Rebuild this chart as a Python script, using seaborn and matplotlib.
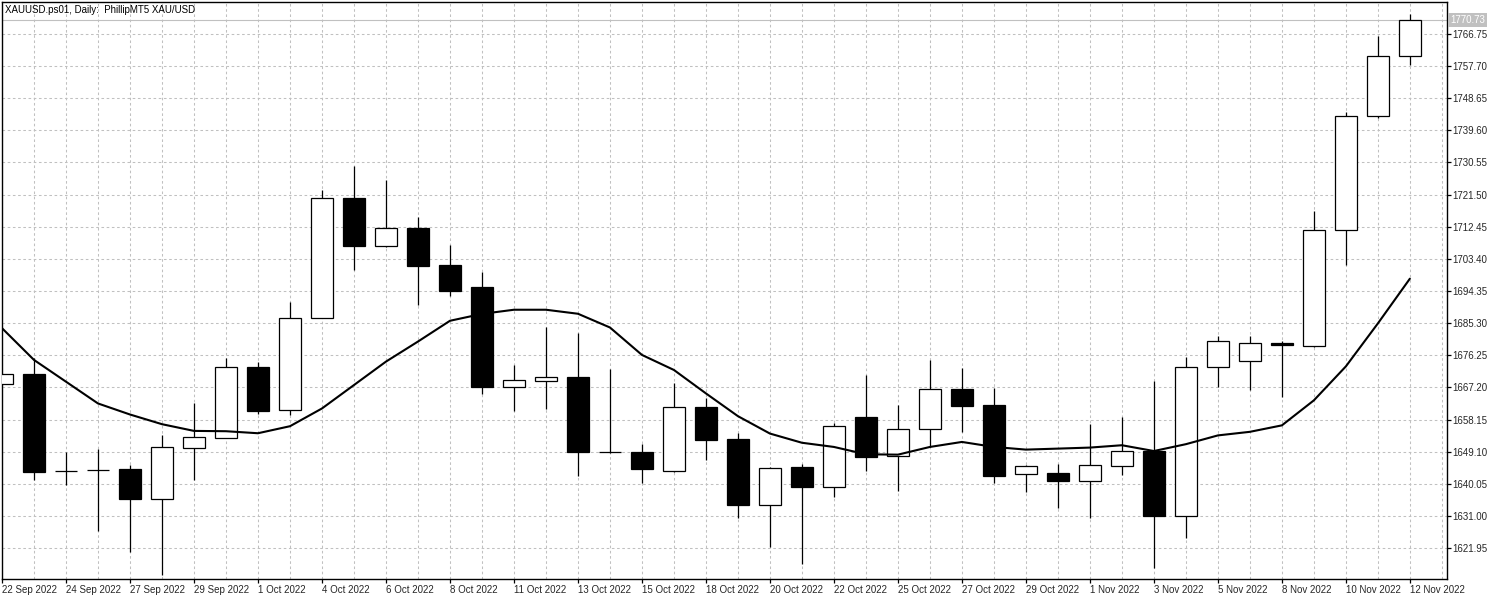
import numpy as np
import pandas as pd
import matplotlib.pyplot as plt
import matplotlib.transforms as mtransforms
import seaborn as sns

# daily bars, one tick label every second bar
tick_labels = ['22 Sep 2022', '24 Sep 2022', '27 Sep 2022', '29 Sep 2022', '1 Oct 2022',
               '4 Oct 2022', '6 Oct 2022', '8 Oct 2022', '11 Oct 2022', '13 Oct 2022',
               '15 Oct 2022', '18 Oct 2022', '20 Oct 2022', '22 Oct 2022', '25 Oct 2022',
               '27 Oct 2022', '29 Oct 2022', '1 Nov 2022', '3 Nov 2022', '5 Nov 2022',
               '8 Nov 2022', '10 Nov 2022', '12 Nov 2022']

opens = [1668.05, 1670.97, 1643.65, 1643.90, 1644.10, 1635.71, 1650.23, 1653.06, 1672.95, 1660.69,
         1686.71, 1720.65, 1706.98, 1711.98, 1701.80, 1695.57, 1667.39, 1669.08, 1670.12, 1649.00,
         1648.99, 1643.64, 1661.64, 1652.59, 1634.00, 1644.67, 1639.20, 1658.81, 1647.97, 1655.42,
         1666.73, 1662.20, 1642.69, 1642.97, 1640.90, 1645.14, 1649.24, 1631.00, 1672.82, 1674.74,
         1679.60, 1678.97, 1711.42, 1743.57, 1760.50]
highs = [1670.97, 1675.40, 1648.98, 1649.76, 1645.24, 1653.72, 1662.67, 1675.40, 1674.36, 1691.14,
         1722.82, 1729.61, 1725.65, 1715.09, 1707.17, 1699.82, 1673.51, 1684.07, 1682.38, 1672.38,
         1651.25, 1668.52, 1664.09, 1654.28, 1644.70, 1645.52, 1657.21, 1670.69, 1662.20, 1674.93,
         1672.67, 1667.11, 1645.33, 1645.52, 1656.83, 1658.90, 1669.09, 1675.65, 1681.59, 1681.59,
         1680.18, 1716.86, 1744.78, 1766.25, 1772.49]
lows = [1668.05, 1640.99, 1639.58, 1626.66, 1620.72, 1614.41, 1640.99, 1653.06, 1659.66, 1659.37,
        1686.71, 1700.19, 1706.79, 1690.30, 1692.84, 1665.31, 1660.51, 1661.17, 1642.23, 1648.60,
        1640.26, 1643.30, 1646.74, 1630.40, 1622.30, 1617.35, 1636.28, 1643.54, 1637.97, 1650.42,
        1654.66, 1640.14, 1637.69, 1633.17, 1630.34, 1642.50, 1616.40, 1624.75, 1667.28, 1666.57,
        1664.46, 1678.47, 1701.75, 1743.17, 1757.88]
closes = [1670.97, 1643.35, 1643.65, 1643.90, 1635.71, 1650.33, 1653.15, 1672.86, 1660.60, 1686.71,
          1720.65, 1706.98, 1711.98, 1701.51, 1694.26, 1667.29, 1669.27, 1670.03, 1648.99, 1648.90,
          1644.20, 1661.55, 1652.40, 1634.06, 1644.50, 1639.11, 1656.26, 1647.69, 1655.42, 1666.63,
          1662.01, 1642.31, 1644.95, 1640.80, 1645.24, 1649.38, 1631.00, 1673.02, 1680.38, 1679.58,
          1679.00, 1711.42, 1743.57, 1760.50, 1770.73]
ma = [1683.88, 1674.93, 1668.80, 1662.67, 1659.56, 1656.83, 1654.94, 1654.85, 1654.28, 1656.26,
      1661.26, 1667.86, 1674.46, 1680.11, 1685.96, 1687.90, 1689.07, 1689.07, 1687.94, 1684.07,
      1676.34, 1672.10, 1665.50, 1659.09, 1654.19, 1651.60, 1650.42, 1648.35, 1648.25, 1650.42,
      1651.83, 1650.42, 1649.67, 1649.95, 1650.24, 1650.90, 1649.27, 1651.20, 1653.67, 1654.68,
      1656.50, 1663.55, 1673.12, 1685.22, 1697.82]

price_ticks = [1621.95, 1631.00, 1640.05, 1649.10, 1658.15, 1667.20, 1676.25, 1685.30, 1694.35,
               1703.40, 1712.45, 1721.50, 1730.55, 1739.60, 1748.65, 1757.70, 1766.75]
last_price = 1770.73
title = 'XAUUSD.ps01, Daily:  PhillipMT5 XAU/USD'

sns.set_style('white')
plt.rcParams['font.family'] = ['Liberation Sans Narrow', 'Liberation Sans', 'DejaVu Sans']

df = pd.DataFrame({'bar': np.arange(len(opens)), 'open': opens, 'high': highs,
                   'low': lows, 'close': closes, 'ma': ma})
up = df['close'] >= df['open']
body = (df['close'] - df['open']).abs().clip(lower=0.12)

fig = plt.figure(figsize=(15, 6), dpi=100)
ax = fig.add_axes([2 / 1500, 21 / 600, 1445 / 1500, 577 / 600])

# last price line
ax.axhline(last_price, color='#c0c0c0', lw=0.8, zorder=1)

# candles: wicks then bodies
ax.vlines(df['bar'], df['low'], df['high'], color='black', lw=0.9, zorder=2)
ax.bar(df['bar'], body, bottom=df[['open', 'close']].min(axis=1), width=0.7,
       color=np.where(up, 'white', 'black'), edgecolor='black', linewidth=0.9, zorder=3)

# moving average
sns.lineplot(data=df, x='bar', y='ma', color='black', linewidth=1.5, ax=ax, zorder=4)

ax.set_xlim(0, 45.16)
ax.set_ylim(1613.22, 1775.76)
ax.set_xlabel('')
ax.set_ylabel('')

ax.set_xticks(np.arange(0, 45, 2))
ax.set_xticklabels(tick_labels, ha='left')
ax.set_xticks(np.arange(1, 46, 2), minor=True)
ax.set_yticks(price_ticks)
ax.set_yticklabels([f'{p:.2f}' for p in price_ticks])
ax.yaxis.tick_right()

ax.grid(True, which='both', color='#c0c0c0', linestyle=(0, (2.5, 2.5)), linewidth=0.75)
ax.set_axisbelow(True)
ax.tick_params(axis='x', which='major', length=3, width=0.9, color='black', pad=1.5,
               labelsize=7, bottom=True)
ax.tick_params(axis='x', which='minor', length=0)
ax.tick_params(axis='y', length=3, width=0.9, color='black', pad=1, labelsize=7,
               right=True, left=False)
for s in ax.spines.values():
    s.set_color('black')
    s.set_linewidth(1)

# current price tag
trans = mtransforms.blended_transform_factory(ax.transAxes, ax.transData)
ax.text(1.002, last_price, '1770.73', transform=trans, va='center', ha='left', color='white',
        fontsize=7, bbox=dict(facecolor='#c0c0c0', edgecolor='none', pad=1.5))

ax.text(0.002, 0.995, title, transform=ax.transAxes, va='top', ha='left', fontsize=7,
        color='black')

fig.savefig('out.png', dpi=100)
plt.close(fig)
